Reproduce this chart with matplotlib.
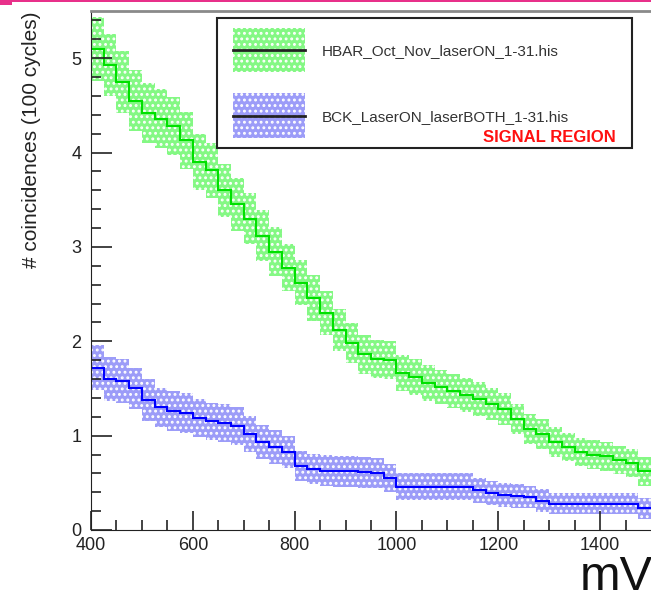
import matplotlib
matplotlib.use('Agg')
from matplotlib import pyplot as plt
from matplotlib.patches import Rectangle
from matplotlib.lines import Line2D
import numpy as np

# bin edges in mV (25 mV bins)
edges = list(range(400, 1501, 25))

hbar = [5.10, 4.93, 4.75, 4.55, 4.42, 4.36, 4.28, 4.13, 3.90, 3.81,
        3.60, 3.45, 3.30, 3.12, 2.95, 2.78, 2.62, 2.46, 2.30, 2.12,
        1.98, 1.86, 1.81, 1.80, 1.66, 1.62, 1.56, 1.52, 1.47, 1.43,
        1.39, 1.34, 1.28, 1.18, 1.07, 1.02, 0.93, 0.88, 0.83, 0.80,
        0.78, 0.74, 0.71, 0.62]
hbar_err = [0.34, 0.33, 0.33, 0.32, 0.32, 0.31, 0.31, 0.30, 0.30, 0.29,
            0.28, 0.28, 0.27, 0.27, 0.26, 0.25, 0.24, 0.24, 0.23, 0.22,
            0.21, 0.21, 0.20, 0.20, 0.19, 0.19, 0.19, 0.18, 0.18, 0.18,
            0.18, 0.17, 0.17, 0.16, 0.16, 0.16, 0.16, 0.15, 0.15, 0.15,
            0.15, 0.15, 0.15, 0.15]

bck = [1.72, 1.60, 1.58, 1.50, 1.38, 1.30, 1.26, 1.24, 1.19, 1.15,
       1.13, 1.10, 1.02, 0.93, 0.88, 0.83, 0.68, 0.65, 0.63, 0.62,
       0.62, 0.61, 0.60, 0.55, 0.46, 0.46, 0.46, 0.46, 0.46, 0.46,
       0.42, 0.39, 0.37, 0.36, 0.35, 0.31, 0.28, 0.28, 0.28, 0.28,
       0.28, 0.28, 0.28, 0.23]
bck_err = [0.24, 0.23, 0.23, 0.22, 0.22, 0.21, 0.21, 0.21, 0.20, 0.20,
           0.20, 0.20, 0.19, 0.18, 0.18, 0.17, 0.16, 0.16, 0.16, 0.16,
           0.16, 0.16, 0.16, 0.15, 0.14, 0.14, 0.14, 0.14, 0.14, 0.14,
           0.13, 0.13, 0.13, 0.13, 0.12, 0.12, 0.11, 0.11, 0.11, 0.11,
           0.11, 0.11, 0.11, 0.11]

labels = ['HBAR_Oct_Nov_laserON_1-31.his', 'BCK_LaserON_laserBOTH_1-31.his']

plt.rcParams['font.family'] = ['Liberation Sans', 'DejaVu Sans']
plt.rcParams['hatch.linewidth'] = 1.3

W, H = 651, 597
fig = plt.figure(figsize=(W / 100, H / 100), dpi=100)


def fx(px):
    return px / W


def fy(py):
    return 1 - py / H


ax = fig.add_axes([fx(91), fy(530), 1 - fx(91), fy(11) - fy(530)])

green_face = '#84f884'
blue_face = '#9c9cf8'


def draw(vals, errs, face, line):
    v = np.array(vals)
    e = np.array(errs)
    ax.stairs(v + e, edges, baseline=v - e, fill=True, facecolor=face,
              edgecolor='white', hatch='...', linewidth=0)
    ax.stairs(v, edges, baseline=None, color=line, linewidth=1.5)


draw(hbar, hbar_err, green_face, '#00e000')
draw(bck, bck_err, blue_face, '#0000ff')

ax.set_xlim(400, 1500)
ax.set_ylim(0, 5.5)
ax.set_xticks([400, 600, 800, 1000, 1200, 1400])
ax.set_xticks(np.arange(450, 1500, 50), minor=True)
ax.set_yticks([0, 1, 2, 3, 4, 5])
ax.set_yticks(np.arange(0.2, 5.5, 0.2), minor=True)
ax.tick_params(which='both', direction='in', top=False, right=False,
               labelsize=13, labelcolor='#222222', width=1.2, color='#222222')
ax.tick_params(axis='x', which='major', length=14, pad=5)
ax.tick_params(axis='x', which='minor', length=7)
ax.tick_params(axis='y', which='major', length=15, pad=7)
ax.tick_params(axis='y', which='minor', length=7)
ax.spines['right'].set_visible(False)
ax.spines['top'].set_color('#8a8a8a')
ax.spines['top'].set_linewidth(2)
ax.spines['left'].set_color('#222222')
ax.spines['bottom'].set_color('#222222')

fig.text(fx(653), fy(578), 'mV', fontsize=35, ha='right', va='center', color='#111111')
fig.text(fx(32), fy(268), '# coincidences (100 cycles)', fontsize=15,
         rotation=90, ha='center', va='bottom', color='#222222')

# legend box
fig.add_artist(Rectangle((fx(217), fy(148)), fx(632) - fx(217), fy(18) - fy(148),
                         transform=fig.transFigure, facecolor='white',
                         edgecolor='#222222', linewidth=1.5))
for (top, bot, mid, face, lab) in [(28, 72, 50, green_face, labels[0]),
                                   (93, 138, 116, blue_face, labels[1])]:
    fig.add_artist(Rectangle((fx(233), fy(bot)), fx(305) - fx(233), fy(top) - fy(bot),
                             transform=fig.transFigure, facecolor=face,
                             edgecolor='white', hatch='...', linewidth=0))
    fig.add_artist(Line2D([fx(233), fx(305)], [fy(mid), fy(mid)],
                          transform=fig.transFigure, color='#222222', linewidth=2))
    fig.text(fx(322), fy(mid + 1), lab, fontsize=11, ha='left', va='center', color='#333333')
fig.text(fx(616), fy(137), 'SIGNAL REGION', fontsize=12, fontweight='bold',
         color='#ff1010', ha='right', va='center')

# pink slide border
fig.add_artist(Rectangle((0, fy(2)), 1, fy(0) - fy(2), transform=fig.transFigure,
                         facecolor='#e8308a', edgecolor='none'))
fig.add_artist(Rectangle((0, fy(5)), fx(12), fy(0) - fy(5), transform=fig.transFigure,
                         facecolor='#e8308a', edgecolor='none'))

fig.savefig('out.png', dpi=100)
